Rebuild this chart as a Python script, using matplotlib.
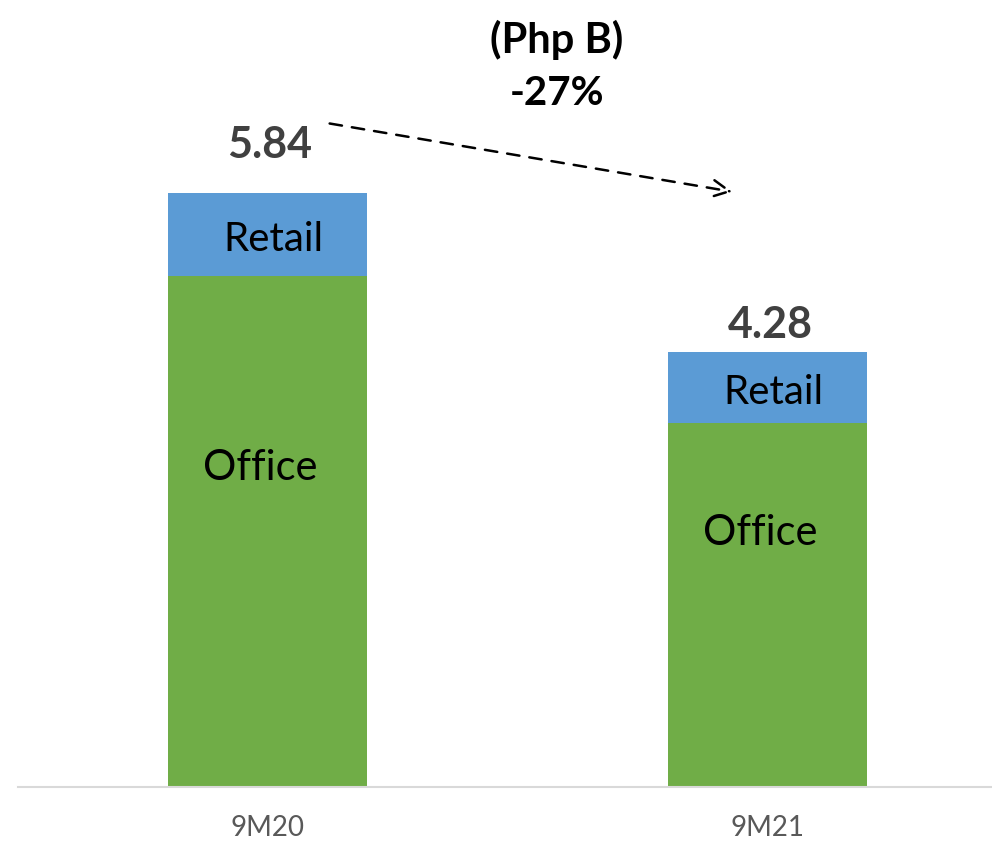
import matplotlib.pyplot as plt

# datos (Php B)
periodos = ['9M20', '9M21']
oficina = [5.03, 3.58]
retail = [0.81, 0.70]
totales = ['5.84', '4.28']
cambio = '-27%'

plt.rcParams['font.family'] = ['Lato', 'DejaVu Sans']

fig = plt.figure(figsize=(9.92, 8.41), dpi=100)
ax = fig.add_axes([0.018, 0.0642, 0.982, 0.9358])

x = range(len(periodos))
ax.bar(x, oficina, width=0.398, color='#70AD47')
ax.bar(x, retail, bottom=oficina, width=0.398, color='#5B9BD5')

# etiquetas dentro de las barras y totales encima
office_y = [3.14, 2.50]
total_dy = [0.47, 0.26]
for i in x:
    ax.text(i - 0.015, office_y[i], 'Office', ha='center', va='center', fontsize=30, color='black')
    ax.text(i + 0.012, oficina[i] + retail[i] / 2 - 0.05, 'Retail', ha='center', va='center',
            fontsize=29, color='black')
    ax.text(i + 0.005, oficina[i] + retail[i] + total_dy[i], totales[i], ha='center', va='center',
            fontsize=31, fontweight='bold', color='#404040')

# flecha de variacion
ax.annotate('', xy=(0.935, 5.85), xytext=(0.119, 6.53),
            arrowprops=dict(arrowstyle='->', linestyle=(0, (5, 4)), lw=1.8, color='black',
                            mutation_scale=30))
ax.text(0.58, 6.82, cambio, ha='center', va='center', fontsize=29, fontweight='bold')
fig.text(0.561, 0.952, '(Php B)', ha='center', va='center', fontsize=30, fontweight='bold')

ax.set_xlim(-0.499, 1.449)
ax.set_ylim(0, 7.74)
ax.set_xticks(list(x))
ax.set_xticklabels(periodos, fontsize=20, color='#595959')
ax.tick_params(axis='x', length=0, pad=20)
ax.set_yticks([])
for s in ['top', 'right', 'left']:
    ax.spines[s].set_visible(False)
ax.spines['bottom'].set_color('#D9D9D9')
ax.spines['bottom'].set_linewidth(1.5)

fig.savefig('out.png', dpi=100)
